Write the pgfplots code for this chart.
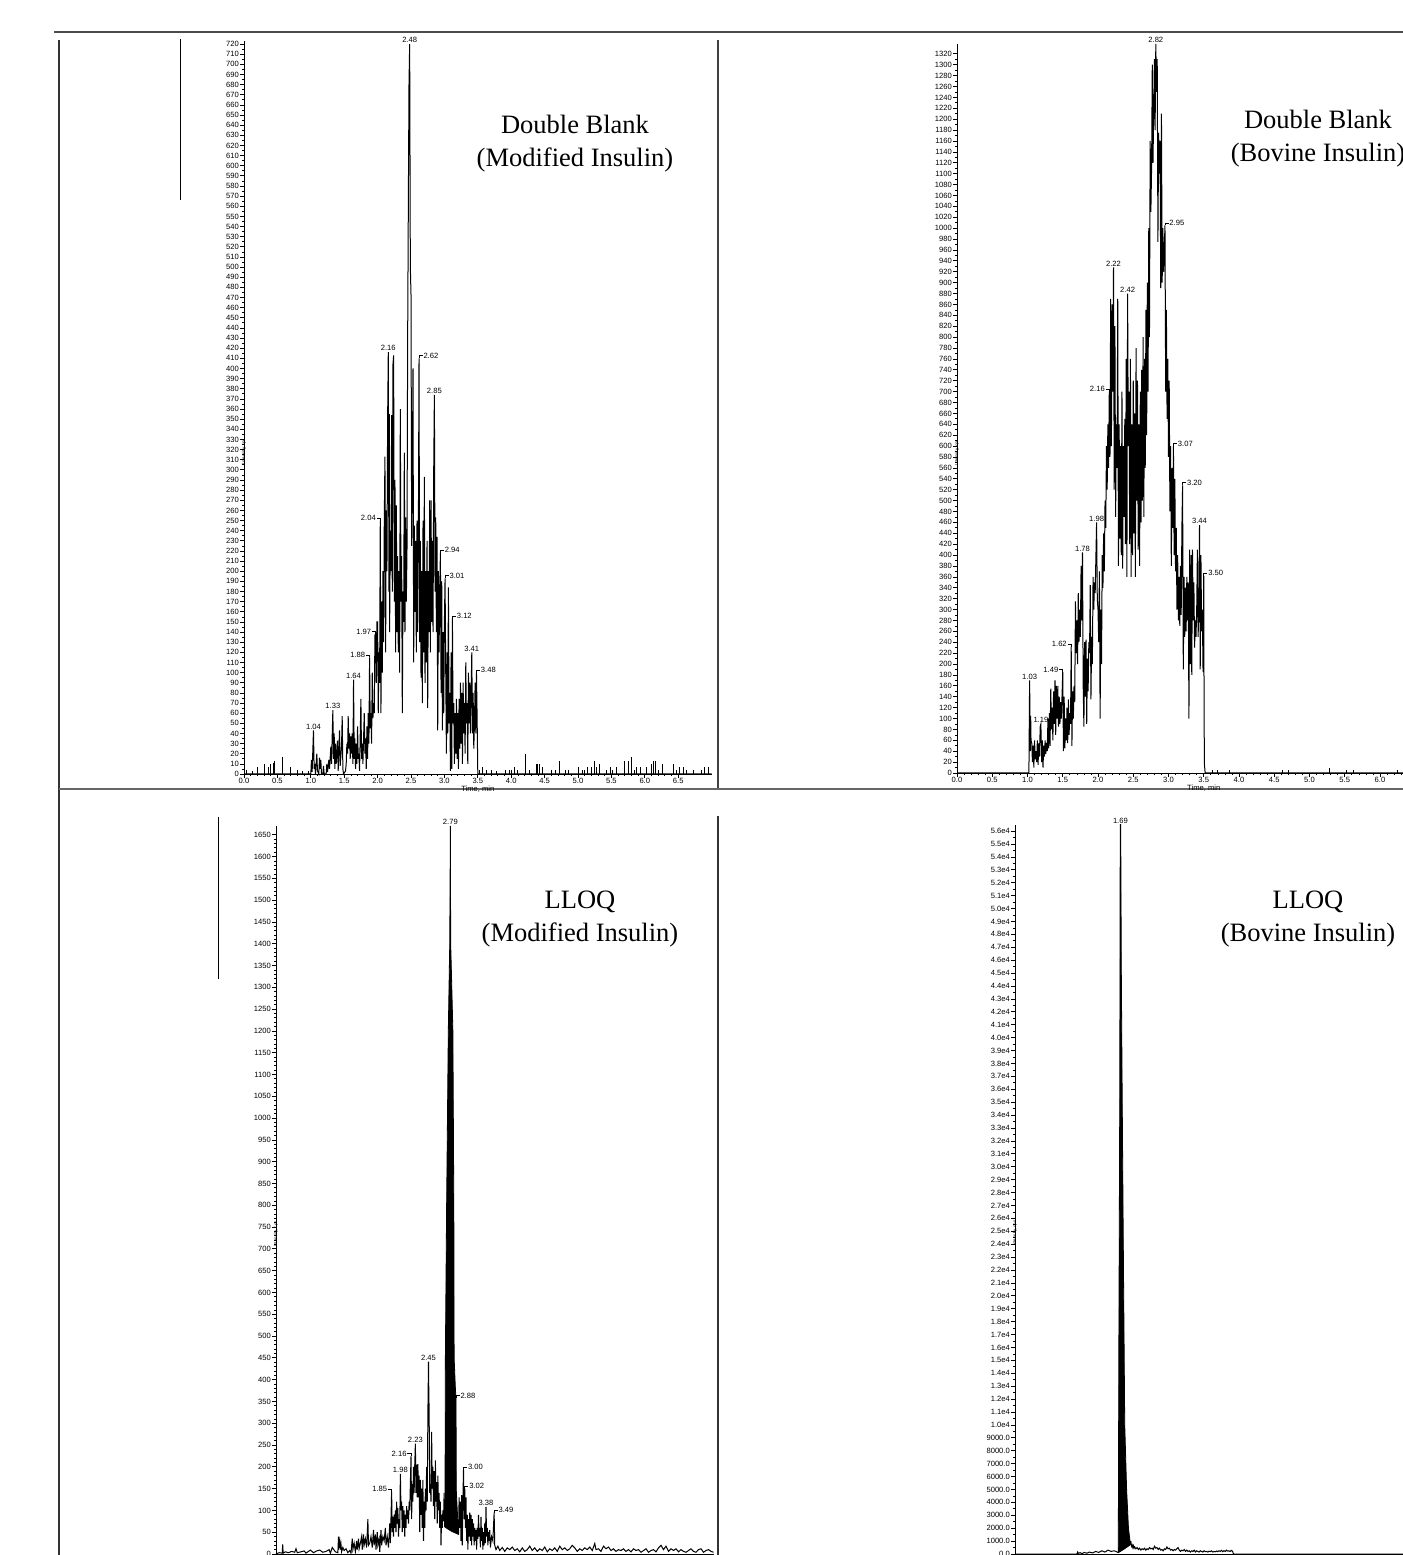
\documentclass[border=0pt]{standalone}
\usepackage{fontspec}
\setmainfont{Liberation Serif}
\newfontfamily\sansf{Liberation Sans}
\usepackage{pgfplots}
\pgfplotsset{compat=1.18}
\newcommand\tk{\sansf\fontsize{3.8}{4.2}\selectfont}
\newcommand\yl{\sansf\fontsize{2.2}{2.4}\selectfont}
\newcommand\ttl{\fontsize{13.25}{16.5}\selectfont}
\newcommand\hookR[3]{\draw[line width=0.3pt] (axis cs:#1,#2) |- ++(1.8pt,1.3pt) node[right,font=\tk,inner sep=0.3pt]{#3};}
\newcommand\hookL[3]{\draw[line width=0.3pt] (axis cs:#1,#2) |- ++(-1.8pt,1.3pt) node[left,font=\tk,inner sep=0.3pt]{#3};}
\newcommand\pk[3]{\node[font=\tk,inner sep=0.4pt,above] at (axis cs:#1,#2){#3};}
\pgfplotsset{chrom/.style={
  scale only axis, axis lines*=left, axis line style={-, line width=0.45pt},
  anchor=south west,
  xmin=0, xmax=7, ymin=0, clip=false,
  cycle list={{black, mark=none, line width=0.5pt}},
  xtick={0,0.5,...,6.5}, minor x tick num=4,
  tick align=outside, major tick length=1.8pt, minor tick length=1pt,
  tick style={line width=0.35pt, black},
  /pgf/number format/assume math mode=true,
  /pgf/number format/1000 sep={},
  scaled y ticks=false, scaled x ticks=false,
  xticklabel style={font=\tk, inner sep=0.3pt, /pgf/number format/.cd, fixed, fixed zerofill, precision=1},
  yticklabel style={font=\tk, inner sep=0.6pt},
  xlabel={Time, min}, xlabel style={font=\tk, at={(axis description cs:0.5,0)}, anchor=north, yshift=-5.6pt, inner sep=0pt},
  ylabel={Intensity, cps}, ylabel style={font=\yl, at={(axis description cs:0,0.5)}, anchor=center, xshift=-22pt},
  every axis plot/.append style={line width=0.5pt, black, mark=none},
}}
\begin{document}
\begin{tikzpicture}
\useasboundingbox (0,0) rectangle (701.5pt,777.5pt);
\clip (0,0) rectangle (701.5pt,777.5pt);
% frame lines
\draw[black!70, line width=0.9pt] (27pt,761.65pt) -- (701.5pt,761.65pt);
\draw[black!80, line width=0.7pt] (29.5pt,757.5pt) -- (29.5pt,0pt);
\draw[black, line width=0.5pt] (90.35pt,758pt) -- (90.35pt,677.5pt);
\draw[black!75, line width=1pt] (358.85pt,757.5pt) -- (358.85pt,383pt);
\draw[black!60, line width=0.8pt] (29.5pt,383pt) -- (701.5pt,383pt);
\draw[black!80, line width=1pt] (358.85pt,369.5pt) -- (358.85pt,0pt);
\draw[black, line width=0.5pt] (109pt,369pt) -- (109pt,288pt);

% ---------------- Top left ----------------
\begin{axis}[chrom, at={(122pt,390.5pt)}, width=233.8pt, height=366.5pt,
  ymax=723, ytick={0,10,...,720}, minor y tick num=1]
\addplot[black] coordinates {(0,0)(1.00,0)(1.01,14)(1.02,2)(1.04,43)(1.05,5)(1.06,10)(1.07,0)(1.09,20)(1.10,3)(1.12,0)(1.13,16)(1.14,5)(1.15,14)(1.16,0)(1.18,0)(1.19,8)(1.20,0)(1.23,0)(1.24,10)(1.25,2)(1.27,14)(1.28,5)(1.30,27)(1.31,10)(1.33,63)(1.34,15)(1.35,40)(1.36,5)(1.37,30)(1.38,10)(1.40,33)(1.41,3)(1.43,43)(1.44,8)(1.46,27)(1.47,57)(1.48,5)(1.49,0)(1.52,3)(1.53,10)(1.54,30)(1.55,20)(1.56,57)(1.57,25)(1.58,40)(1.59,15)(1.60,37)(1.61,20)(1.62,40)(1.63,10)(1.64,93)(1.65,15)(1.66,35)(1.67,5)(1.68,30)(1.69,10)(1.70,47)(1.71,15)(1.72,20)(1.73,3)(1.75,74)(1.76,15)(1.77,30)(1.78,10)(1.80,60)(1.81,20)(1.82,35)(1.83,5)(1.84,47)(1.85,15)(1.86,60)(1.87,30)(1.88,115)(1.89,45)(1.90,60)(1.91,30)(1.92,100)(1.93,55)(1.94,70)(1.95,60)(1.96,137)(1.97,138)(1.98,90)(1.99,150)
(2.00,150)(2.01,60)(2.02,120)(2.03,90)(2.04,250)(2.05,60)(2.06,170)(2.07,100)(2.08,200)(2.09,130)(2.10,250)(2.11,313)(2.12,120)(2.13,260)(2.14,200)(2.15,350)(2.16,416)(2.17,180)(2.175,355)(2.18,140)(2.19,240)(2.20,200)(2.21,354)(2.22,180)(2.23,404)(2.24,413)(2.25,170)(2.26,290)(2.27,120)(2.28,265)(2.29,140)(2.30,215)(2.31,120)(2.32,200)(2.33,100)(2.34,360)(2.35,170)(2.36,215)(2.37,60)(2.38,180)(2.39,150)(2.40,317)(2.41,140)(2.42,253)(2.43,170)(2.44,220)(2.45,430)(2.46,560)(2.47,680)(2.48,720)(2.49,500)(2.50,473)(2.51,225)(2.52,290)(2.53,400)(2.54,110)(2.55,245)(2.56,160)(2.57,230)(2.58,120)(2.59,250)(2.60,140)(2.61,230)(2.62,410)(2.63,130)(2.64,230)(2.65,95)(2.66,200)(2.67,70)(2.68,250)(2.69,120)(2.70,293)(2.71,90)(2.72,200)(2.73,110)(2.74,230)(2.75,65)(2.76,200)(2.77,140)(2.78,270)(2.79,120)(2.80,270)(2.81,150)(2.82,230)(2.83,140)(2.84,300)(2.85,374)(2.86,180)(2.87,253)(2.88,140)(2.89,234)(2.90,43)(2.91,200)(2.92,120)(2.93,180)(2.94,218)(2.95,80)(2.96,190)(2.97,43)(2.98,140)(2.99,60)(3.00,150)(3.01,193)
(3.02,100)(3.03,20)(3.04,120)(3.05,40)(3.06,184)(3.07,50)(3.08,80)(3.09,3)(3.10,120)(3.11,5)(3.12,153)(3.13,50)(3.14,70)(3.15,10)(3.16,60)(3.17,20)(3.18,74)(3.19,15)(3.20,60)(3.21,5)(3.22,74)(3.23,25)(3.24,90)(3.25,30)(3.26,80)(3.27,10)(3.28,90)(3.29,40)(3.30,70)(3.31,20)(3.32,110)(3.33,50)(3.34,70)(3.35,10)(3.36,100)(3.37,50)(3.38,90)(3.39,40)(3.40,80)(3.41,120)(3.42,40)(3.43,80)(3.44,25)(3.45,50)(3.46,90)(3.47,40)(3.48,100)(3.49,55)(3.50,0)(7,0)};
\addplot[black, ycomb] coordinates {(0.04,4)(0.13,3)(0.20,7)(0.30,10)(0.36,7)(0.40,10)(0.44,11)(0.46,13)(0.57,17)(0.70,7)(0.80,4)(0.88,3)(0.96,3)(3.53,4)(3.57,7)(3.63,4)(3.70,4)(3.78,3)(3.92,4)(3.97,4)(4.00,4)(4.05,7)(4.10,4)(4.22,20)(4.28,4)(4.38,10)(4.40,10)(4.43,10)(4.47,7)(4.60,4)(4.67,4)(4.73,13)(4.82,4)(4.86,4)(5.00,7)(5.07,4)(5.10,4)(5.14,7)(5.20,7)(5.25,13)(5.28,7)(5.32,10)(5.42,4)(5.48,7)(5.52,4)(5.58,7)(5.70,13)(5.76,13)(5.80,17)(5.84,4)(5.88,7)(5.94,7)(6.02,7)(6.10,10)(6.13,13)(6.16,13)(6.20,4)(6.27,10)(6.43,10)(6.48,4)(6.52,7)(6.58,7)(6.62,4)(6.73,4)(6.85,4)(6.90,7)(6.95,7)};
\pk{1.04}{43}{1.04}\pk{1.33}{63}{1.33}\pk{1.64}{93}{1.64}
\hookL{1.88}{115}{1.88}\hookL{1.97}{138}{1.97}\hookL{2.04}{250}{2.04}
\pk{2.16}{416}{2.16}\pk{2.48}{720}{2.48}\hookR{2.62}{410}{2.62}\pk{2.85}{374}{2.85}
\hookR{2.94}{218}{2.94}\hookR{3.01}{193}{3.01}\hookR{3.12}{153}{3.12}\pk{3.41}{120}{3.41}\hookR{3.48}{100}{3.48}
\end{axis}

% ---------------- Top right ----------------
\begin{axis}[chrom, at={(478.5pt,391pt)}, width=246.75pt, height=364.5pt,
  ymax=1338, ytick={0,20,...,1320}, minor y tick num=1]
\addplot[black] coordinates {(0,0)(1.02,0)(1.03,170)(1.04,40)(1.045,105)(1.05,60)(1.06,55)(1.07,20)(1.08,50)(1.09,10)(1.10,60)(1.11,25)(1.12,40)(1.13,20)(1.14,60)(1.15,15)(1.16,55)(1.17,30)(1.18,85)(1.19,90)(1.20,20)(1.21,60)(1.22,10)(1.23,50)(1.24,30)(1.25,60)(1.26,35)(1.27,55)(1.28,40)(1.29,100)(1.30,45)(1.31,110)(1.32,50)(1.33,155)(1.34,80)(1.35,120)(1.36,60)(1.37,150)(1.38,90)(1.39,170)(1.40,70)(1.41,160)(1.42,100)(1.43,160)(1.44,85)(1.45,140)(1.46,90)(1.47,130)(1.48,100)(1.50,185)(1.51,40)(1.52,140)(1.53,45)(1.54,100)(1.55,60)(1.56,120)(1.57,55)(1.58,135)(1.59,70)(1.60,110)(1.61,90)(1.62,232)(1.63,50)(1.64,150)(1.65,100)(1.66,160)(1.67,130)(1.68,315)(1.69,220)(1.70,280)(1.71,200)(1.72,330)(1.73,240)(1.74,300)(1.75,250)(1.76,380)(1.77,280)(1.78,405)(1.79,160)(1.80,85)(1.81,240)(1.82,140)(1.83,245)(1.84,90)(1.85,210)(1.86,150)(1.87,240)(1.88,220)(1.89,345)(1.90,135)(1.91,250)(1.92,200)(1.93,360)(1.94,300)(1.95,350)(1.96,330)(1.98,460)(1.99,320)
(2.00,300)(2.01,240)(2.02,370)(2.03,100)(2.04,300)(2.05,200)(2.06,400)(2.07,340)(2.08,440)(2.09,370)(2.10,500)(2.11,450)(2.12,600)(2.13,520)(2.14,640)(2.15,560)(2.16,700)(2.17,580)(2.18,870)(2.19,600)(2.20,860)(2.21,700)(2.22,928)(2.23,520)(2.24,820)(2.25,470)(2.26,640)(2.27,560)(2.28,870)(2.29,380)(2.30,640)(2.31,430)(2.32,600)(2.33,400)(2.34,700)(2.35,375)(2.36,600)(2.37,470)(2.38,650)(2.39,420)(2.40,760)(2.41,360)(2.42,880)(2.43,600)(2.44,700)(2.45,420)(2.46,760)(2.47,360)(2.48,640)(2.49,400)(2.50,720)(2.51,440)(2.52,660)(2.53,360)(2.54,780)(2.55,500)(2.56,720)(2.57,410)(2.58,640)(2.59,380)(2.60,700)(2.61,460)(2.62,740)(2.63,500)(2.64,800)(2.65,470)(2.66,760)(2.67,560)(2.68,850)(2.69,620)(2.70,900)(2.71,700)(2.72,1000)(2.73,800)(2.74,1160)(2.75,1030)(2.76,1110)(2.77,1300)(2.78,1120)(2.80,1310)(2.81,1180)(2.82,1338)(2.83,1250)(2.84,1310)(2.85,975)(2.86,1175)(2.87,1100)(2.88,1160)(2.89,890)(2.90,1210)(2.91,900)(2.92,1000)(2.93,920)(2.94,960)(2.95,1005)(2.96,700)(2.97,850)(2.98,650)(2.99,760)
(3.00,580)(3.01,720)(3.02,480)(3.03,600)(3.04,380)(3.05,560)(3.06,450)(3.07,600)(3.08,400)(3.09,540)(3.10,370)(3.11,450)(3.12,300)(3.13,400)(3.14,280)(3.15,360)(3.16,270)(3.17,380)(3.18,290)(3.19,450)(3.20,528)(3.21,190)(3.22,360)(3.23,250)(3.24,340)(3.25,260)(3.26,360)(3.27,280)(3.28,350)(3.29,100)(3.30,410)(3.31,200)(3.32,400)(3.33,180)(3.34,410)(3.35,280)(3.36,350)(3.37,230)(3.38,280)(3.39,250)(3.40,300)(3.41,410)(3.42,250)(3.43,300)(3.44,455)(3.45,190)(3.46,400)(3.47,260)(3.48,300)(3.49,185)(3.50,362)(3.505,100)(3.51,15)(3.52,0)(7,0)};
\addplot[black, ycomb] coordinates {(3.62,5)(3.70,5)(3.86,5)(4.62,5)(4.70,5)(5.28,10)(5.52,5)(5.62,5)(6.25,5)(6.60,5)(6.90,5)};
\pk{1.03}{170}{1.03}\pk{1.19}{90}{1.19}\hookL{1.50}{185}{1.49}\hookL{1.62}{232}{1.62}
\pk{1.78}{405}{1.78}\pk{1.98}{460}{1.98}\hookL{2.16}{700}{2.16}\pk{2.22}{928}{2.22}\pk{2.42}{880}{2.42}
\pk{2.82}{1338}{2.82}\hookR{2.95}{1005}{2.95}\hookR{3.07}{600}{3.07}\hookR{3.20}{528}{3.20}
\pk{3.44}{455}{3.44}\hookR{3.50}{362}{3.50}
\end{axis}

% ---------------- Bottom left ----------------
\begin{axis}[chrom, at={(138pt,0.5pt)}, width=218.75pt, height=364pt,
  ymax=1670, ytick={0,50,...,1650}, minor y tick num=4]
\addplot[black] coordinates {(0,0)(0.05,3)(0.10,2)(0.107,22)(0.115,2)(0.15,5)(0.2,3)(0.25,6)(0.3,4)(0.32,12)(0.34,3)(0.4,5)(0.45,7)(0.48,2)(0.52,6)(0.55,9)(0.6,3)(0.65,7)(0.7,9)(0.75,4)(0.8,6)(0.85,10)(0.87,2)(0.9,15)(0.95,5)(0.99,3)(1.00,40)(1.01,20)(1.02,30)(1.03,10)(1.04,22)(1.05,5)(1.07,15)(1.09,8)(1.12,12)(1.15,3)(1.18,8)(1.20,2)(1.22,35)(1.23,10)(1.25,25)(1.27,5)(1.29,30)(1.30,10)(1.32,35)(1.33,12)(1.35,25)(1.37,40)(1.38,10)(1.40,45)(1.41,20)(1.43,35)(1.45,15)(1.47,80)(1.48,20)(1.50,25)(1.52,40)(1.54,15)(1.56,55)(1.57,20)(1.59,45)(1.60,10)(1.62,50)(1.63,20)(1.65,35)(1.66,5)(1.68,55)(1.69,20)(1.71,40)(1.73,30)(1.75,60)(1.76,20)(1.78,40)(1.80,15)(1.82,70)(1.83,25)(1.85,143)(1.86,50)(1.87,85)(1.88,40)(1.89,90)(1.90,60)(1.91,100)(1.92,50)(1.93,120)(1.94,70)(1.95,105)(1.96,40)(1.97,80)(1.98,60)(1.99,184)
(2.00,100)(2.01,120)(2.02,50)(2.03,110)(2.04,60)(2.05,100)(2.06,40)(2.07,90)(2.08,60)(2.09,110)(2.10,80)(2.11,100)(2.12,70)(2.13,120)(2.14,100)(2.16,224)(2.17,80)(2.18,160)(2.19,120)(2.20,200)(2.21,140)(2.22,205)(2.23,253)(2.24,140)(2.25,205)(2.26,130)(2.27,206)(2.28,130)(2.29,180)(2.30,50)(2.31,170)(2.32,90)(2.33,150)(2.34,60)(2.35,170)(2.36,30)(2.37,120)(2.38,60)(2.39,150)(2.40,100)(2.41,200)(2.42,120)(2.43,320)(2.44,441)(2.445,370)(2.45,330)(2.46,140)(2.47,160)(2.48,120)(2.49,280)(2.50,150)(2.51,200)(2.52,110)(2.53,190)(2.54,80)(2.55,215)(2.56,120)(2.57,165)(2.58,70)(2.59,180)(2.60,100)(2.61,140)(2.62,60)(2.63,120)(2.64,20)(2.65,90)(2.66,60)(2.67,100)(2.68,75)(2.69,140)(2.70,62)};
\addplot[black, fill=black, draw=black, line width=0.4pt] coordinates {(2.70,62)(2.705,145)(2.71,450)(2.73,800)(2.757,1200)(2.78,1400)(2.79,1670)(2.795,1400)(2.83,1200)(2.845,800)(2.85,450)(2.87,380)(2.88,357)(2.885,145)(2.90,100)(2.92,50)(2.92,45)(2.81,52)(2.70,62)};
\addplot[black] coordinates {(2.92,45)(2.93,130)(2.94,60)(2.95,120)(2.96,30)(2.97,135)(2.98,20)(2.99,120)(3.00,193)(3.01,80)(3.02,150)(3.03,60)(3.04,130)(3.05,30)(3.06,90)(3.07,10)(3.08,80)(3.09,40)(3.10,95)(3.11,30)(3.12,90)(3.13,20)(3.14,80)(3.15,40)(3.16,70)(3.17,20)(3.18,60)(3.19,30)(3.20,55)(3.21,10)(3.22,60)(3.23,35)(3.24,90)(3.25,40)(3.26,60)(3.27,15)(3.28,85)(3.29,30)(3.30,60)(3.31,10)(3.32,50)(3.33,20)(3.34,70)(3.35,25)(3.36,108)(3.37,40)(3.38,60)(3.39,20)(3.40,50)(3.41,30)(3.42,55)(3.43,15)(3.45,40)(3.47,30)(3.49,95)(3.50,20)
(3.52,10)(3.55,18)(3.58,8)(3.62,15)(3.66,6)(3.70,14)(3.74,10)(3.78,16)(3.82,8)(3.86,12)(3.90,5)(3.94,14)(3.98,6)(4.02,10)(4.06,18)(4.10,8)(4.14,14)(4.18,6)(4.22,12)(4.26,8)(4.30,16)(4.34,5)(4.38,12)(4.42,8)(4.46,14)(4.50,6)(4.54,18)(4.58,10)(4.62,14)(4.66,8)(4.70,12)(4.74,20)(4.78,14)(4.82,6)(4.86,12)(4.90,8)(4.94,14)(4.98,10)(5.02,16)(5.06,8)(5.10,24)(5.12,10)(5.16,12)(5.20,6)(5.24,18)(5.28,12)(5.32,16)(5.36,8)(5.40,12)(5.44,6)(5.48,10)(5.52,8)(5.56,12)(5.60,6)(5.64,10)(5.68,5)(5.72,12)(5.76,8)(5.80,10)(5.84,4)(5.88,8)(5.92,12)(5.96,4)(6.00,8)(6.04,10)(6.08,5)(6.12,14)(6.16,20)(6.20,10)(6.24,18)(6.28,6)(6.32,12)(6.36,8)(6.40,12)(6.44,5)(6.48,10)(6.52,6)(6.56,4)(6.60,8)(6.64,12)(6.68,6)(6.72,4)(6.76,10)(6.80,12)(6.84,4)(6.88,8)(6.92,10)(6.96,6)(7.00,4)};
\hookL{1.85}{143}{1.85}\pk{1.99}{184}{1.98}\hookL{2.16}{224}{2.16}\pk{2.23}{253}{2.23}\pk{2.44}{441}{2.45}
\pk{2.79}{1670}{2.79}\hookR{2.88}{357}{2.88}\hookR{3.00}{193}{3.00}\hookR{3.02}{150}{3.02}
\pk{3.36}{108}{3.38}\hookR{3.49}{95}{3.49}
\end{axis}

% ---------------- Bottom right ----------------
\begin{axis}[chrom, at={(507.5pt,0.5pt)}, width=217pt, height=364.7pt,
  ymax=56500, minor y tick num=1,
  ytick={0,1000,2000,3000,4000,5000,6000,7000,8000,9000,10000,11000,12000,13000,14000,15000,16000,17000,18000,19000,20000,21000,22000,23000,24000,25000,26000,27000,28000,29000,30000,31000,32000,33000,34000,35000,36000,37000,38000,39000,40000,41000,42000,43000,44000,45000,46000,47000,48000,49000,50000,51000,52000,53000,54000,55000,56000},
  yticklabels={0.0,1000.0,2000.0,3000.0,4000.0,5000.0,6000.0,7000.0,8000.0,9000.0,1.0e4,1.1e4,1.2e4,1.3e4,1.4e4,1.5e4,1.6e4,1.7e4,1.8e4,1.9e4,2.0e4,2.1e4,2.2e4,2.3e4,2.4e4,2.5e4,2.6e4,2.7e4,2.8e4,2.9e4,3.0e4,3.1e4,3.2e4,3.3e4,3.4e4,3.5e4,3.6e4,3.7e4,3.8e4,3.9e4,4.0e4,4.1e4,4.2e4,4.3e4,4.4e4,4.5e4,4.6e4,4.7e4,4.8e4,4.9e4,5.0e4,5.1e4,5.2e4,5.3e4,5.4e4,5.5e4,5.6e4}]
\addplot[black] coordinates {(0,0)(1.00,0)(1.01,150)(1.02,50)(1.05,100)(1.08,30)(1.12,120)(1.16,60)(1.20,150)(1.25,80)(1.30,200)(1.35,120)(1.40,250)(1.45,150)(1.50,300)(1.55,200)(1.60,250)(1.65,150)(1.665,100)};
\addplot[black, fill=black, draw=black, line width=0.4pt] coordinates {(1.665,100)(1.665,200)(1.668,4000)(1.675,16000)(1.69,36000)(1.697,56500)(1.705,56500)(1.715,45000)(1.728,36000)(1.745,25000)(1.76,16000)(1.77,10000)(1.80,5000)(1.83,2000)(1.855,1000)(1.855,700)(1.75,350)(1.665,100)};
\addplot[black] coordinates {(1.855,1000)(1.86,800)(1.87,900)(1.88,600)(1.89,700)(1.90,500)(1.91,650)(1.92,450)(1.93,550)(1.95,400)(1.97,500)(1.99,350)(2.01,450)(2.03,300)(2.05,400)(2.07,350)(2.09,450)(2.11,300)(2.13,400)(2.15,350)(2.17,500)(2.19,400)(2.21,450)(2.23,350)(2.25,600)(2.27,450)(2.29,500)(2.31,350)(2.33,450)(2.35,300)(2.37,350)(2.39,250)(2.41,400)(2.43,350)(2.45,550)(2.47,400)(2.49,450)(2.51,300)(2.53,350)(2.55,250)(2.57,350)(2.59,300)(2.61,400)(2.63,500)(2.65,300)(2.67,200)(2.69,300)(2.71,250)(2.73,350)(2.75,200)(2.77,300)(2.79,200)(2.81,250)(2.83,150)(2.85,250)(2.87,200)(2.89,300)(2.91,150)(2.93,250)(2.95,200)(2.97,150)(2.99,250)(3.01,200)(3.03,150)(3.05,250)(3.07,180)(3.09,200)(3.11,150)(3.13,220)(3.15,180)(3.17,250)(3.19,150)(3.21,200)(3.23,170)(3.25,230)(3.27,180)(3.29,250)(3.31,200)(3.33,280)(3.35,180)(3.37,250)(3.39,200)(3.41,300)(3.43,220)(3.45,250)(3.47,200)(3.49,280)(3.51,200)(3.52,50)(3.53,0)(7,0)};
\pk{1.70}{56500}{1.69}
\end{axis}

% titles
\node[align=center, font=\ttl] at (287.5pt,705.75pt) {Double Blank\\(Modified Insulin)};
\node[align=center, font=\ttl] at (659pt,708pt) {Double Blank\\(Bovine Insulin)};
\node[align=center, font=\ttl] at (290pt,317.75pt) {LLOQ\\(Modified Insulin)};
\node[align=center, font=\ttl] at (654pt,317.75pt) {LLOQ\\(Bovine Insulin)};
\end{tikzpicture}
\end{document}
